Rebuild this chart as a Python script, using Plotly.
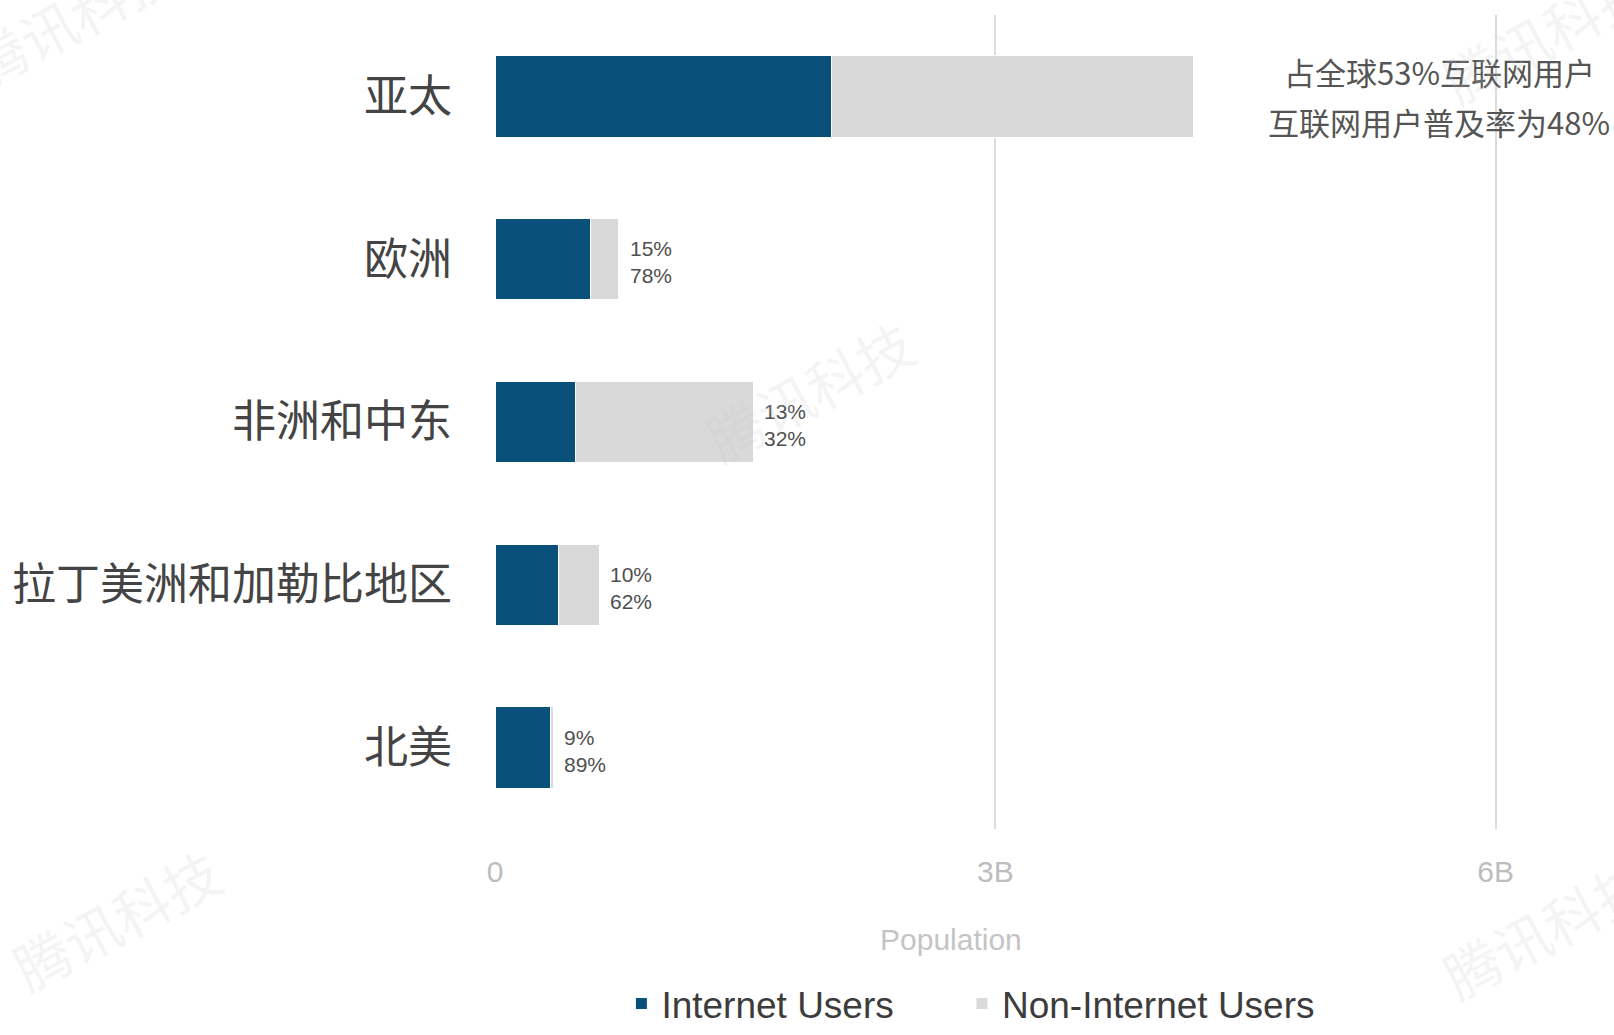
import plotly.graph_objects as go

regions = ["亚太", "欧洲", "非洲和中东", "拉丁美洲和加勒比地区", "北美"]
internet_users = [2.02e9, 0.575e9, 0.48e9, 0.38e9, 0.33e9]
non_internet_users = [2.17e9, 0.167e9, 1.07e9, 0.245e9, 0.02e9]
share_of_world = ["", "15%", "13%", "10%", "9%"]
penetration = ["", "78%", "32%", "62%", "89%"]
apac_note = ["占全球53%互联网用户", "互联网用户普及率为48%"]
x_ticks = [0, 3e9, 6e9]
x_tick_text = ["0", "3B", "6B"]

BLUE = "#08507a"
GREY = "#d9d9d9"
LATIN = "Liberation Sans, Arial, sans-serif"
CJK = "Noto Sans CJK SC, sans-serif"

fig = go.Figure()
fig.add_trace(go.Bar(
    y=regions, x=internet_users, orientation="h", name="Internet Users",
    marker=dict(color=BLUE, line=dict(color="white", width=1)), width=0.5,
    legend="legend",
))
fig.add_trace(go.Bar(
    y=regions, x=non_internet_users, orientation="h", name="Non-Internet Users",
    marker=dict(color=GREY, line=dict(color="white", width=1)), width=0.5,
    legend="legend2",
))

# percentage labels to the right of each bar
for r, a, b, s, p in zip(regions, internet_users, non_internet_users, share_of_world, penetration):
    if not s:
        continue
    fig.add_annotation(
        x=a + b, y=r, xref="x", yref="y", text=f"{s}<br>{p}", showarrow=False,
        xanchor="left", yanchor="middle", align="left", xshift=9, yshift=-3,
        font=dict(family=LATIN, size=21, color="#4f4f4f"),
    )

# note for Asia-Pacific
for i, line in enumerate(apac_note):
    fig.add_annotation(
        x=1.0, y=regions[0], xref="paper", yref="y", text=line, showarrow=False,
        xanchor="center", yanchor="middle", xshift=-140, yshift=25 - 50 * i,
        font=dict(family=CJK, size=31, color="#555555"),
    )

# x axis title
fig.add_annotation(
    x=0.421, y=-0.136, xref="paper", yref="paper", text="Population", showarrow=False,
    xanchor="center", yanchor="middle", font=dict(family=LATIN, size=30, color="#c4c4c4"),
)

# faint watermarks
for wx, wy in [(0.29, 0.54), (-0.35, -0.11), (-0.39, 1.0), (0.97, 0.98), (0.97, -0.12)]:
    fig.add_annotation(
        x=wx, y=wy, xref="paper", yref="paper", text="腾讯科技", showarrow=False,
        xanchor="center", yanchor="middle",
        textangle=-28, font=dict(family=CJK, size=56, color="rgba(200,200,200,0.2)"),
    )

legend_style = dict(
    orientation="h", xref="container", yref="container", y=-0.013, xanchor="left",
    yanchor="bottom", font=dict(family=LATIN, size=37, color="#3c3c3c"), itemwidth=30,
)

fig.update_layout(
    width=1614, height=1035,
    margin=dict(l=495, r=35, t=15, b=206, autoexpand=False),
    paper_bgcolor="white", plot_bgcolor="white",
    barmode="stack",
    showlegend=True,
    legend=dict(x=0.385, **legend_style),
    legend2=dict(x=0.596, **legend_style),
    xaxis=dict(
        range=[0, 6.5e9], tickvals=x_ticks, ticktext=x_tick_text,
        showgrid=True, gridcolor="#dcdcdc", gridwidth=1.5, zeroline=False,
        showline=False, ticks="", ticklabelstandoff=22, automargin=False,
        tickfont=dict(family=LATIN, size=30, color="#bdbdbd"),
    ),
    yaxis=dict(
        range=[4.5, -0.5], showgrid=False, zeroline=False, showline=False,
        ticks="", ticklabelstandoff=42, automargin=False,
        tickfont=dict(family=CJK, size=44, color="#444444"),
    ),
)

fig.write_html("out.html", config={"displayModeBar": False},
               post_script="document.body.style.margin='0';")
